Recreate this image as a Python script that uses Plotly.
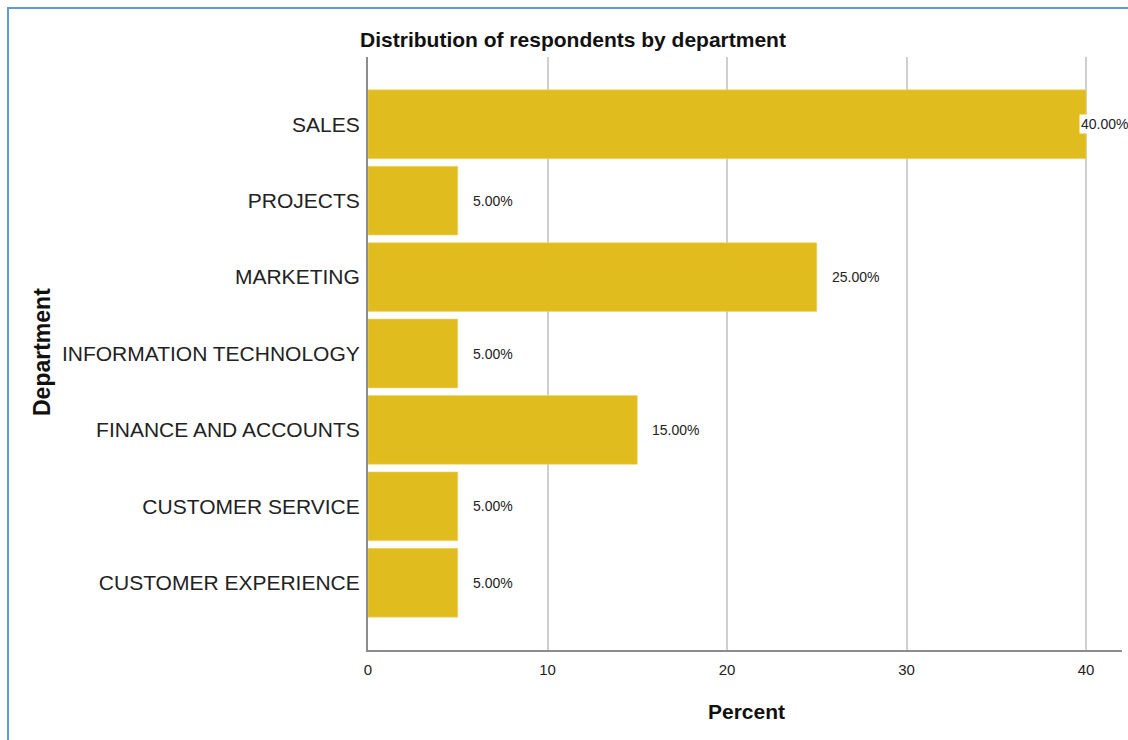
import plotly.graph_objects as go

# Departments, listed bottom-to-top on the category axis
departments = [
    "CUSTOMER EXPERIENCE",
    "CUSTOMER SERVICE",
    "FINANCE AND ACCOUNTS",
    "INFORMATION TECHNOLOGY",
    "MARKETING",
    "PROJECTS",
    "SALES",
]
percent = [5.0, 5.0, 15.0, 5.0, 25.0, 5.0, 40.0]
x_ticks = [0, 10, 20, 30, 40]

X_MAX = 42
BAR_COLOR = "#e1bc1e"
FONT = "Arial, Liberation Sans, sans-serif"

W, H = 1128, 740
L, R, T, B = 368, 6, 57, 90
PW, PH = W - L - R, H - T - B


def px_to_paper_x(px):
    return (px - L) / PW


def px_to_paper_y(py):
    return (H - B - py) / PH


fig = go.Figure(
    go.Bar(
        x=percent,
        y=departments,
        orientation="h",
        marker=dict(color=BAR_COLOR, line=dict(color="#efd772", width=0.6)),
        hoverinfo="skip",
    )
)

# Value labels: outside the bar end, or tucked against the end on a white box
annotations = []
for dep, val in zip(departments, percent):
    near_edge = val >= X_MAX - 4
    annotations.append(
        dict(
            x=val,
            y=dep,
            xref="x",
            yref="y",
            text=f"{val:.2f}%",
            showarrow=False,
            xanchor="left",
            yanchor="middle",
            xshift=-7 if near_edge else 13,
            bgcolor="white" if near_edge else None,
            borderpad=1,
            font=dict(family=FONT, size=14, color="#222222"),
        )
    )

# Axis titles
annotations.append(
    dict(
        x=px_to_paper_x(746), y=px_to_paper_y(711), xref="paper", yref="paper",
        xanchor="center", yanchor="middle",
        text="<b>Percent</b>", showarrow=False,
        font=dict(family=FONT, size=21, color="#111111"),
    )
)
annotations.append(
    dict(
        x=px_to_paper_x(42), y=px_to_paper_y(352), xref="paper", yref="paper",
        xanchor="center", yanchor="middle",
        text="<b>Department</b>", showarrow=False, textangle=-90,
        font=dict(family=FONT, size=23, color="#111111"),
    )
)

# Thin blue frame along the top and left edges
frame = dict(color="#5b9bd5", width=2)
shapes = [
    dict(type="line", xref="paper", yref="paper",
         x0=px_to_paper_x(7), x1=px_to_paper_x(W + 5),
         y0=px_to_paper_y(8), y1=px_to_paper_y(8), line=frame),
    dict(type="line", xref="paper", yref="paper",
         x0=px_to_paper_x(8), x1=px_to_paper_x(8),
         y0=px_to_paper_y(8), y1=px_to_paper_y(H + 5), line=frame),
]

fig.update_layout(
    width=W,
    height=H,
    margin=dict(l=L, r=R, t=T, b=B, pad=0),
    paper_bgcolor="white",
    plot_bgcolor="white",
    showlegend=False,
    bargap=0.1,
    title=dict(
        text="<b>Distribution of respondents by department</b>",
        xref="container", x=573 / W, xanchor="center",
        yref="container", y=(H - 40) / H, yanchor="middle",
        font=dict(family=FONT, size=21, color="#111111"),
    ),
    xaxis=dict(
        range=[0, X_MAX],
        tickvals=x_ticks,
        ticktext=[str(t) for t in x_ticks],
        showgrid=True,
        gridcolor="#cfcfcf",
        gridwidth=1.5,
        zeroline=False,
        showline=True,
        linecolor="#8c8c8c",
        linewidth=2,
        ticks="",
        ticklabelstandoff=5,
        tickfont=dict(family=FONT, size=15, color="#222222"),
        fixedrange=True,
    ),
    yaxis=dict(
        range=[-0.88, 6.88],
        showgrid=False,
        zeroline=False,
        showline=True,
        linecolor="#8c8c8c",
        linewidth=2,
        ticks="",
        ticklabelstandoff=2,
        tickfont=dict(family=FONT, size=21, color="#222222"),
        fixedrange=True,
    ),
    annotations=annotations,
    shapes=shapes,
)

fig.write_html("out.html")
